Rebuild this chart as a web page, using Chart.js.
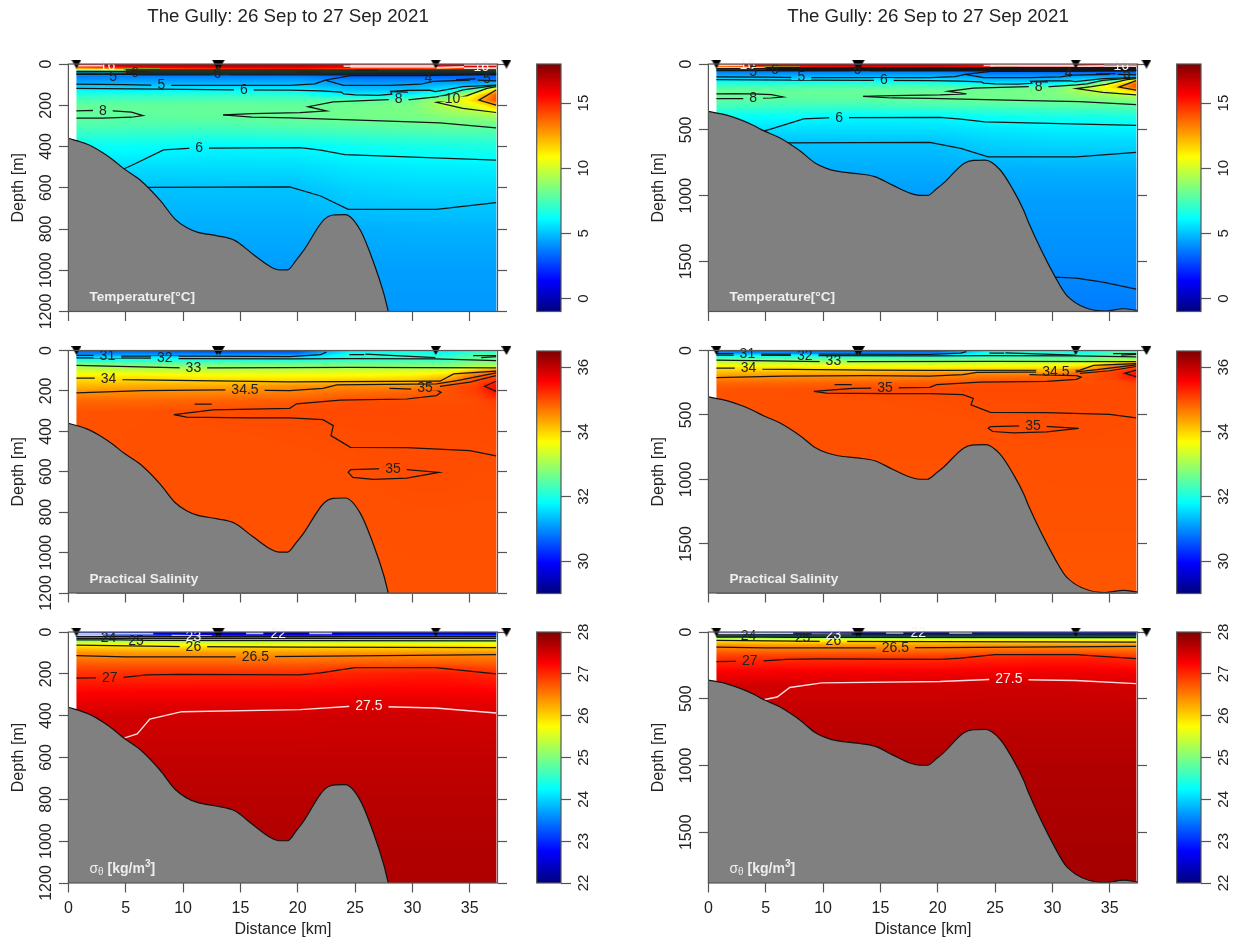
<!DOCTYPE html>
<html><head><meta charset="utf-8">
<style>html,body{margin:0;padding:0;background:#fff;width:1244px;height:944px;overflow:hidden}canvas{position:absolute;display:block}</style>
<script src="https://cdn.jsdelivr.net/npm/chart.js@4"></script>
</head><body>
<script>
// ---------- data ----------
const chartTitle = 'The Gully: 26 Sep to 27 Sep 2021';
const stationKm = [0.7, 12.95, 13.2, 32.03, 38.2];
const bathyKm    = [0,1.6,3,3.9,4.8,6.25,8,9.3,10.3,11.3,13,14.5,16.1,17.7,18.4,19.1,19.9,20.5,22.25,23.1,24.15,25.45,26.6,27.5,27.9,30.25,31.3,34.6,36.2,37.42];
const bathyDepth = [360,388,430,465,506,562,661,752,793,816,833,855,922,985,998,998,948,905,757,732,730,805,960,1112,1200,1619,1763,1877,1859,1872];
const levels = [0,8,20,30,40,50,60,75,100,125,150,175,200,250,300,400,500,600,800,1000,1500,1880];
const columnsKm = [0.7,6,13,20,24.5,30,33,35.5,37.3];
const temperature = [
[16.5,16.8,17,17,16.5,16.8,16.5,16.8,16.8],
[16,16.5,16.8,16.8,16,16,16,16.5,16.5],
[13,15,15.8,16,15.5,15.5,15,15.5,15],
[8,10,11,12,10,10,9,11,9],
[5,6,7,8,6,5,5,6,5],
[3.8,3.8,3.8,3.8,3.5,3.5,3.5,3.5,3.2],
[3.8,3.8,3.8,3.8,3.2,3.2,3.2,3.2,3.2],
[4.2,4.2,4.2,4.3,3.8,3.8,3.8,3.5,3.5],
[4.9,4.9,5,5,4.5,4.5,4.8,4.8,5.5],
[5.9,5.8,6,5.9,5,5,5.8,7.5,12],
[6.9,6.9,7,6.9,5.9,6,7.5,11,14],
[7.5,7.5,7.6,7.6,7.7,8,9.3,11.8,14.2],
[8,8,8,8,8.2,8.4,9.6,10.5,12.2],
[8,7.9,8,8.1,8.3,8.4,8.7,8.9,9.3],
[7.6,7.5,7.5,7.7,7.8,7.9,8,8,8],
[6.2,6.2,6,6.05,6.3,6.5,6.5,6.6,6.6],
[5.6,5.5,5.5,5.5,5.7,5.8,5.8,5.85,5.85],
[5,5,5,5,5.3,5.4,5.4,5.4,5.4],
[4.6,4.6,4.6,4.6,4.65,4.7,4.7,4.7,4.7],
[4.3,4.3,4.3,4.3,4.35,4.35,4.35,4.35,4.35],
[4,4,4,4,4,4.02,4.02,4.02,4.02],
[3.7,3.7,3.7,3.7,3.7,3.7,3.7,3.7,3.7]];
const salinity = [
[30.6,30.6,30.4,30.4,31.6,31.8,31.6,31.9,32],
[30.8,30.8,30.6,30.6,31.8,32,31.8,32.2,32.2],
[31,31.1,31,31,32,32.1,32,32.4,32.4],
[31.4,31.5,31.4,31.4,32.1,32.2,32.2,32.5,32.5],
[31.8,31.9,31.9,31.9,32.15,32.25,32.25,32.55,32.55],
[32,32.1,32.1,32.1,32.2,32.3,32.3,32.6,32.6],
[32.5,32.4,32.4,32.4,32.5,32.5,32.5,32.8,32.8],
[33,32.8,32.8,32.8,32.8,32.8,32.8,33,33],
[33.4,33.3,33.3,33.3,33.4,33.4,33.5,34.2,34.7],
[33.8,33.8,33.7,33.7,33.7,33.8,34,34.8,35],
[34,34,34,34,34.1,34.1,34.5,35,35.2],
[34.2,34.3,34.3,34.5,34.5,34.5,34.9,35.1,35.5],
[34.45,34.5,34.5,34.6,34.7,34.8,34.95,35.1,35.5],
[34.8,34.8,34.85,34.9,35,35,34.98,35,35.1],
[34.95,34.96,35,35.02,35.03,35.02,35.02,35.02,35.03],
[34.96,34.97,34.98,34.99,35,35.01,35.01,35.01,35.02],
[34.96,34.97,34.97,34.98,34.99,35,35,35,35],
[34.97,34.97,34.97,34.97,34.98,35,35,34.99,34.99],
[34.97,34.97,34.97,34.97,34.97,34.98,34.98,34.98,34.98],
[34.96,34.96,34.96,34.96,34.96,34.97,34.97,34.97,34.97],
[34.94,34.94,34.94,34.94,34.94,34.95,34.95,34.95,34.95],
[34.93,34.93,34.93,34.93,34.93,34.93,34.93,34.93,34.93]];
const sigmaTheta = [
[22.9,22.6,22.3,22.2,22.6,22.6,22.6,22.5,22.5],
[23,22.8,22.4,22.3,22.6,22.7,22.7,22.6,22.6],
[23.8,23.6,23.2,23.2,23.4,23.4,23.4,23.4,23.4],
[24.5,24.4,24.2,24.2,24.3,24.3,24.3,24.3,24.3],
[25,25,24.8,24.9,25,25,25,25,25],
[25.4,25.4,25.4,25.4,25.4,25.4,25.4,25.5,25.5],
[25.8,25.8,25.7,25.7,25.8,25.8,25.8,25.8,25.8],
[26.05,26,26,26,26,26,26,26,26],
[26.4,26.35,26.35,26.35,26.38,26.38,26.38,26.4,26.4],
[26.52,26.52,26.52,26.52,26.55,26.55,26.55,26.55,26.55],
[26.7,26.68,26.68,26.68,26.72,26.72,26.72,26.7,26.7],
[26.85,26.85,26.85,26.85,26.92,26.95,26.95,26.9,26.85],
[26.97,26.98,27,27,27.05,27.1,27.1,27.05,27],
[27.12,27.14,27.14,27.14,27.18,27.2,27.2,27.18,27.15],
[27.28,27.3,27.3,27.3,27.33,27.33,27.33,27.32,27.3],
[27.52,27.52,27.52,27.52,27.53,27.53,27.52,27.51,27.5],
[27.55,27.55,27.55,27.55,27.56,27.56,27.56,27.56,27.55],
[27.6,27.6,27.6,27.6,27.6,27.6,27.6,27.6,27.6],
[27.66,27.66,27.66,27.66,27.66,27.66,27.66,27.66,27.66],
[27.7,27.7,27.7,27.7,27.7,27.7,27.7,27.7,27.7],
[27.75,27.75,27.75,27.75,27.75,27.75,27.75,27.75,27.75],
[27.78,27.78,27.78,27.78,27.78,27.78,27.78,27.78,27.78]];

// contour polylines: [km, depth] pairs
const tempLines = [
 [[0.7,97],[5,100],[8,103],[12,103],[15,103],[19.3,103],[21.5,96],[22.4,78]],
 [[0.7,118],[8,122],[14.3,125],[19.3,126],[22,130],[23.8,136],[24,145],[25,150],[27,152],[28.2,146],[28.1,132],[29.5,128],[31.5,127],[32,134],[33,124],[34.4,110],[37.3,102]],
 [[22.4,78],[24,103],[28,103],[30.7,98],[31.8,84],[35,78]],
 [[22.4,78],[24.6,56],[31,56],[37.3,48]],
 [[33.8,75],[35.5,72]],[[35.7,78],[37.3,82]],[[28.2,134],[29.6,136]],
 [[0.7,227],[2.3,225],[3.9,227],[5.5,233],[6.5,250],[5.5,258],[3,262],[0.7,262]],
 [[13.5,246],[16,240],[20.2,235],[22.5,227],[20.9,207],[23.1,183],[27.9,172],[29.8,172],[32.1,159],[33,150],[34.4,125],[37.3,104]],
 [[13.5,246],[16,258],[19.3,261],[28,277],[32.4,285],[37.3,309]],
 [[37.3,110],[36.5,118],[34.7,154],[33.4,172],[32.1,186],[34.4,215],[37.3,235]],
 [[37.3,126],[35.8,175],[37.3,199]],
 [[4.8,509],[5.5,492],[8.3,416],[10.8,408],[12.2,408],[20.2,405],[22,418],[24.1,439],[37.3,466]],
 [[6.8,598],[19.3,596],[22,640],[24.4,705],[32.1,705],[37.3,672]],
 [[30.2,1619],[32.1,1627],[34.4,1657],[37.3,1710]],
 [[5,28],[37.3,28]],[[5,33],[37.3,33]],[[5,38],[37.3,38]],[[5,43],[37.3,43]],[[5,48],[37.3,48]],[[6,52],[37.3,52]],
 [[0.7,35],[5,35]],[[0.7,44],[5,44]],[[0.7,50],[6,50]]
];
const tempPaleLines = [
 [[0.7,8],[3,8]],[[24.6,6],[32,6]],[[24.6,14],[32,14]],[[24,10],[24.8,10]],[[32,18],[34.5,14]],[[34.5,4],[37.3,4]],[[34.5,20],[37.3,20]]
];
const tempTintLines = [
 [[20,40],[22,40]],[[25,29],[27,29]],[[4.8,24],[8,24]],[[4.8,40],[7,38]]
];
const tempCyanLines = [[[12.4,50],[14.1,50]]];
const salLines = [
 [[0.7,24],[2.3,24],[4.6,28],[12,28],[19.3,30],[22,20],[22.5,8]],
 [[0.7,36],[7.3,38],[9.5,40],[19.3,41],[24.6,40],[32,42],[37.3,50]],
 [[24.5,20],[25.8,20]],[[25.9,18],[32,35]],[[35.3,25],[37.3,25]],[[36,35],[37.3,30]],
 [[0.7,74],[10,86],[13,86],[24.6,84],[37.3,86]],
 [[0.7,137],[2.3,137],[4.6,144],[14.4,152],[19.3,155],[32.4,152],[33.6,116],[37.3,102]],
 [[0.7,210],[6.5,198],[13.7,195],[19.3,198],[22.2,187],[23.4,170],[32.1,165],[33.9,149],[37.3,111]],
 [[32.4,177],[35,157],[37.3,124]],
 [[37.3,152],[36.3,177],[37.3,202]],
 [[11,265],[12.5,265]],
 [[9.2,317],[12.6,294],[19.3,286],[19.9,264],[23.7,245],[29.5,240],[32.1,223],[32.5,207],[32.1,195],[28,187]],
 [[9.2,317],[10.3,330],[15.8,334],[19.3,334],[22.2,342],[23.1,372],[22.9,421],[24.6,479],[29.5,481],[35,496],[37.3,522]],
 [[24.6,590],[28.3,583],[32.3,603],[29.5,631],[26.6,638],[24.8,628],[24.4,603],[24.6,590]]
];
const sigmaLines = [
 [[0.7,221],[4.8,217],[6.8,205],[9.7,202],[20.2,205],[22,195],[25,170],[32,170],[37.3,200]],
 [[0.7,113],[5,119],[14,119],[20,117],[37.3,108]],
 [[0.7,63],[10,70],[20,72],[37.3,75]],
 [[0.7,38],[4.6,38],[7,40],[37.3,42]],
 [[0.7,30],[37.3,30]],
 [[0.7,22],[37.3,22]]
];
const sigmaWhiteLines = [
 [[4.9,506],[6,487],[7.1,416],[9.9,381],[20.2,371],[25,354],[32,363],[37.3,387]]
];
const sigmaPaleLines = [
 [[0.7,8],[7.4,8]],[[0.7,15],[3,15]],[[15.5,6],[17,6]],[[9,18],[12.5,20]],[[21,6],[23,6]]
];

// contour labels: [km, depth, text, kind]  kind: '' gap+dark, 's' no gap dark, 'w' no gap white, 'wg' gap white
const tempLabelsCommon = [[8.1,103,'5',''],[15.3,125,'6',''],[11.4,408,'6',''],[28.8,172,'8',''],[3.4,10,'16','w'],[3.9,65,'5','s'],[5.8,44,'6','s'],[13,50,'6','s'],[31.4,70,'4','s'],[36.5,75,'5','s'],[36,13,'16','w']];
const tempLabelsLeft = [[3,226,'8',''],[33.5,170,'10','']];
const tempLabelsRight = [[3.9,262,'8','']];
const salLabelsCommon = [[3.4,26,'31',''],[8.4,40,'32',''],[10.9,86,'33',''],[3.5,140,'34',''],[28.3,585,'35','']];
const salLabelsLeft = [[15.4,195,'34.5',''],[31.1,186,'35','']];
const salLabelsRight = [[30.3,165,'34.5',''],[15.4,288,'35','']];
const sigmaLabelsCommon = [[3.5,30,'24','s'],[10.9,71,'26',''],[16.3,118,'26.5',''],[3.6,220,'27',''],[10.9,25,'23','w'],[18.3,11,'22','w'],[26.2,354,'27.5','wg']];
const sigmaLabelsLeft = [[5.9,46,'25','s']];
const sigmaLabelsRight = [[8.2,46,'25','s']];

const tickTemp = [0,5,10,15], tickSal = [30,32,34,36], tickSigma = [22,23,24,25,26,27,28];
const depthTicksLeft = [0,200,400,600,800,1000,1200], depthTicksRight = [0,500,1000,1500];
const rangeTemp = [-1,18], rangeSal = [29,36.5], rangeSigma = [22,28];
const depthMaxLeft = 1200, depthMaxRight = 1880, distanceMax = 37.42;

// ---------- drawing ----------
Chart.defaults.font.family = '"Liberation Sans", Arial, sans-serif';
Chart.defaults.color = '#222';
const LINE = '#555';
const jetStops = [[0,0,127],[0,0,255],[0,127,255],[0,255,255],[127,255,127],[255,255,0],[255,127,0],[255,0,0],[127,0,0]];
function jet(v, r){
  let t = (v-r[0])/(r[1]-r[0])*8; t = Math.max(0,Math.min(7.9999,t));
  const i = Math.floor(t), f = t-i, a = jetStops[i], b = jetStops[i+1];
  return [a[0]+(b[0]-a[0])*f, a[1]+(b[1]-a[1])*f, a[2]+(b[2]-a[2])*f];
}
function bracket(arr, v){
  let i = 0; while(i < arr.length-2 && arr[i+1] < v) i++;
  return [i, Math.max(0,Math.min(1,(v-arr[i])/(arr[i+1]-arr[i])))];
}
const triangle = document.createElement('canvas');
triangle.width = 10; triangle.height = 9;
{ const c = triangle.getContext('2d'); c.fillStyle='#000'; c.beginPath(); c.moveTo(0,0); c.lineTo(10,0); c.lineTo(5,9); c.closePath(); c.fill(); }
const labelFont = '14px "Liberation Sans", Arial, sans-serif';

const fieldPlugin = { id:'fieldPlugin',
  beforeDatasetsDraw(chart, _a, o){
    if(!o.field) return;
    const A = chart.chartArea, X = chart.scales.x, Y = chart.scales.y, ctx = chart.ctx;
    const w = Math.ceil(A.right-A.left), h = Math.ceil(A.bottom-A.top);
    const off = document.createElement('canvas'); off.width=w; off.height=h;
    const oc = off.getContext('2d'), img = oc.createImageData(w,h);
    const k0 = columnsKm[0], k1 = columnsKm[columnsKm.length-1];
    for(let py=0;py<h;py++){
      const [li,lf] = bracket(levels, Y.getValueForPixel(A.top+py+0.5));
      for(let px=0;px<w;px++){
        const km = X.getValueForPixel(A.left+px+0.5);
        if(km<k0||km>k1) continue;
        const [ci,cf] = bracket(columnsKm, km), F = o.field;
        const v = (F[li][ci]*(1-cf)+F[li][ci+1]*cf)*(1-lf)+(F[li+1][ci]*(1-cf)+F[li+1][ci+1]*cf)*lf;
        const c = jet(v,o.range), p=(py*w+px)*4;
        img.data[p]=c[0]; img.data[p+1]=c[1]; img.data[p+2]=c[2]; img.data[p+3]=255;
      }
    }
    oc.putImageData(img,0,0);
    ctx.drawImage(off,A.left,A.top);
  },
  beforeDatasetDraw(chart,args,o){
    const ds = chart.data.datasets[args.index];
    if(!ds.contour) return;
    const ctx = chart.ctx, A = chart.chartArea;
    ctx.save(); ctx.beginPath();
    ctx.rect(A.left-2,A.top-2,A.right-A.left+4,A.bottom-A.top+4);
    ctx.font = labelFont;
    for(const L of o.labels||[]){
      if(L[3]==='s'||L[3]==='w') continue;
      const x = chart.scales.x.getPixelForValue(L[0]), y = chart.scales.y.getPixelForValue(L[1]);
      const hw = ctx.measureText(L[2]).width/2+6;
      ctx.rect(x-hw,y-2.5,hw*2,5);
    }
    ctx.clip('evenodd');
  },
  afterDatasetDraw(chart,args){
    if(chart.data.datasets[args.index].contour) chart.ctx.restore();
  },
  afterDatasetsDraw(chart,_a,o){
    const ctx = chart.ctx, A = chart.chartArea;
    ctx.save();
    ctx.font = labelFont;
    ctx.textAlign='center'; ctx.textBaseline='middle';
    for(const L of o.labels||[]){
      ctx.fillStyle = (L[3]==='w'||L[3]==='wg') ? '#f4f4f4' : '#222';
      ctx.fillText(L[2], chart.scales.x.getPixelForValue(L[0]), chart.scales.y.getPixelForValue(L[1]));
    }
    ctx.strokeStyle=LINE; ctx.lineWidth=1.2;
    ctx.strokeRect(A.left,A.top,A.right-A.left,A.bottom-A.top);
    // variable name
    const bx = A.left+21, by = A.bottom-10.5;
    ctx.textAlign='left'; ctx.textBaseline='alphabetic'; ctx.fillStyle='#eee';
    if(o.name==='sigma'){
      let x=bx; ctx.font='14px "Liberation Sans"'; ctx.fillText('σ',x,by); x+=ctx.measureText('σ').width;
      ctx.font='10px "Liberation Sans"'; ctx.fillText('θ',x,by+2); x+=ctx.measureText('θ').width+4;
      ctx.font='bold 14px "Liberation Sans"'; ctx.fillText('[kg/m',x,by); x+=ctx.measureText('[kg/m').width;
      ctx.font='bold 10px "Liberation Sans"'; ctx.fillText('3',x,by-6); x+=ctx.measureText('3').width;
      ctx.font='bold 14px "Liberation Sans"'; ctx.fillText(']',x,by);
    } else { ctx.font='bold 13.6px "Liberation Sans"'; ctx.fillText(o.name,bx,by); }
    ctx.restore();
  }
};
const barPlugin = { id:'barPlugin',
  beforeDatasetsDraw(chart,_a,o){
    const ctx = chart.ctx, A = chart.chartArea, Y = chart.scales.y;
    for(let py=Math.floor(A.top);py<A.bottom;py++){
      const c = jet(Y.getValueForPixel(py+0.5),o.range);
      ctx.fillStyle=`rgb(${c[0]|0},${c[1]|0},${c[2]|0})`;
      ctx.fillRect(A.left,py,A.right-A.left,1);
    }
    ctx.strokeStyle=LINE; ctx.lineWidth=1.2;
    ctx.strokeRect(A.left,A.top,A.right-A.left,A.bottom-A.top);
  }
};
const pairs = a => a.map(p=>({x:p[0],y:p[1]}));
const lineSet = (pts,color,width) => ({type:'scatter',data:pairs(pts),showLine:true,pointRadius:0,borderColor:color,borderWidth:width,contour:true,fill:false,tension:0});
const plain = v => String(v);

function panel(col,row,spec){
  const colLeft = col*640, right = col===1, ymax = right?depthMaxRight:depthMaxLeft;
  const dTicks = right?depthTicksRight:depthTicksLeft;
  const geo = [{top:0,h:340,pad:64,bot:28.5},{top:340,h:285,pad:10.5,bot:32},{top:622,h:322,pad:10,bot:61}][row];
  const cv = document.createElement('canvas');
  cv.width=576; cv.height=geo.h; cv.style.left=colLeft+'px'; cv.style.top=geo.top+'px';
  document.body.appendChild(cv);
  const datasets = [
    {type:'scatter',data:stationKm.map(k=>({x:k,y:0})),pointStyle:triangle,pointRadius:12,clip:false,showLine:false},
    {type:'scatter',data:bathyKm.map((k,i)=>({x:k,y:bathyDepth[i]})),showLine:true,pointRadius:0,borderColor:'#111',borderWidth:1.2,backgroundColor:'#808080',fill:{value:ymax},cubicInterpolationMode:'monotone'}
  ];
  for(const l of spec.white||[]) datasets.push(lineSet(l,'rgba(255,235,235,.95)',1.4));
  for(const l of spec.lines) datasets.push(lineSet(l,'#151515',1.25));
  for(const l of spec.tint||[]) datasets.push(lineSet(l,'#8f9a20',2));
  for(const l of spec.cyan||[]) datasets.push(lineSet(l,'#30e8f0',1.6));
  for(const l of spec.pale||[]) datasets.push(lineSet(l,spec.paleColor,1.8));
  new Chart(cv,{type:'scatter',data:{datasets},
    plugins:[fieldPlugin],
    options:{responsive:false,animation:false,devicePixelRatio:1,events:[],
      layout:{autoPadding:false,padding:{top:row===0?0:geo.pad,left:0,right:0,bottom:0}},
      plugins:{legend:{display:false},tooltip:{enabled:false},
        title:{display:row===0,text:chartTitle,color:'#222',font:{size:18.7,weight:'normal'},padding:{top:5.5,bottom:36.1}},
        fieldPlugin:{field:spec.field,range:spec.range,labels:spec.labels.concat(right?spec.labelsR:spec.labelsL),name:spec.name}},
      scales:{
        x:{type:'linear',position:'bottom',min:0,max:distanceMax,
          afterFit:s=>{s.height=geo.bot},
          ticks:{display:row===2,stepSize:5,includeBounds:false,font:{size:16},color:'#222',padding:6,maxRotation:0,autoSkip:false},
          grid:{drawOnChartArea:false,color:LINE,tickLength:9.5,tickWidth:1.2},border:{display:false},
          title:{display:row===2,text:'Distance [km]',font:{size:16},color:'#222',padding:{top:0,bottom:5}}},
        y:{type:'linear',position:'left',reverse:true,min:0,max:ymax,
          afterFit:s=>{s.width=68.4},
          afterBuildTicks:s=>{s.ticks=dTicks.map(v=>({value:v}))},
          ticks:{callback:plain,font:{size:16},color:'#222',minRotation:90,maxRotation:90,crossAlign:'center',padding:-5,autoSkip:false},
          grid:{drawOnChartArea:false,color:LINE,tickLength:9.5,tickWidth:1.2},border:{display:false},
          title:{display:true,text:'Depth [m]',font:{size:16},color:'#222',padding:{top:9,bottom:0}}},
        yR:{type:'linear',position:'right',reverse:true,min:0,max:ymax,
          afterFit:s=>{s.width=78.5},
          afterBuildTicks:s=>{s.ticks=dTicks.map(v=>({value:v}))},
          ticks:{display:false},
          grid:{drawOnChartArea:false,color:LINE,tickLength:9.5,tickWidth:1.2},border:{display:false}}
      }}});
  // colour bar
  const cb = document.createElement('canvas');
  const bars = [[64,311.5],[350.5,593],[632,883]][row];
  cb.width=70; cb.height=Math.ceil(bars[1]-bars[0])+50;
  cb.style.left=(colLeft+530)+'px'; cb.style.top=(bars[0]-25)+'px';
  document.body.appendChild(cb);
  new Chart(cb,{type:'scatter',data:{datasets:[{data:[],label:spec.name}]},plugins:[barPlugin],
    options:{responsive:false,animation:false,devicePixelRatio:1,events:[],
      layout:{autoPadding:false,padding:{top:25,left:6.7,right:0,bottom:cb.height-25-(bars[1]-bars[0])}},
      plugins:{legend:{display:false},tooltip:{enabled:false},barPlugin:{range:spec.range}},
      scales:{
        x:{display:false,min:0,max:1},
        y:{type:'linear',position:'right',min:spec.range[0],max:spec.range[1],
          afterFit:s=>{s.width=39},
          afterBuildTicks:s=>{s.ticks=spec.ticks.map(v=>({value:v}))},
          ticks:{callback:plain,font:{size:15},color:'#222',minRotation:90,maxRotation:90,crossAlign:'center',padding:5,autoSkip:false},
          grid:{drawOnChartArea:false,color:LINE,tickLength:10,tickWidth:1.2},border:{display:false}}
      }}});
}
const specs = [
 {field:temperature,range:rangeTemp,ticks:tickTemp,lines:tempLines,pale:tempPaleLines,paleColor:'rgba(255,225,225,.9)',tint:tempTintLines,cyan:tempCyanLines,labels:tempLabelsCommon,labelsL:tempLabelsLeft,labelsR:tempLabelsRight,name:'Temperature[°C]'},
 {field:salinity,range:rangeSal,ticks:tickSal,lines:salLines,labels:salLabelsCommon,labelsL:salLabelsLeft,labelsR:salLabelsRight,name:'Practical Salinity'},
 {field:sigmaTheta,range:rangeSigma,ticks:tickSigma,lines:sigmaLines,white:sigmaWhiteLines,pale:sigmaPaleLines,paleColor:'rgba(215,215,235,.9)',labels:sigmaLabelsCommon,labelsL:sigmaLabelsLeft,labelsR:sigmaLabelsRight,name:'sigma'}
];
for(let c=0;c<2;c++) for(let r=0;r<3;r++) panel(c,r,specs[r]);
</script>
</body></html>
